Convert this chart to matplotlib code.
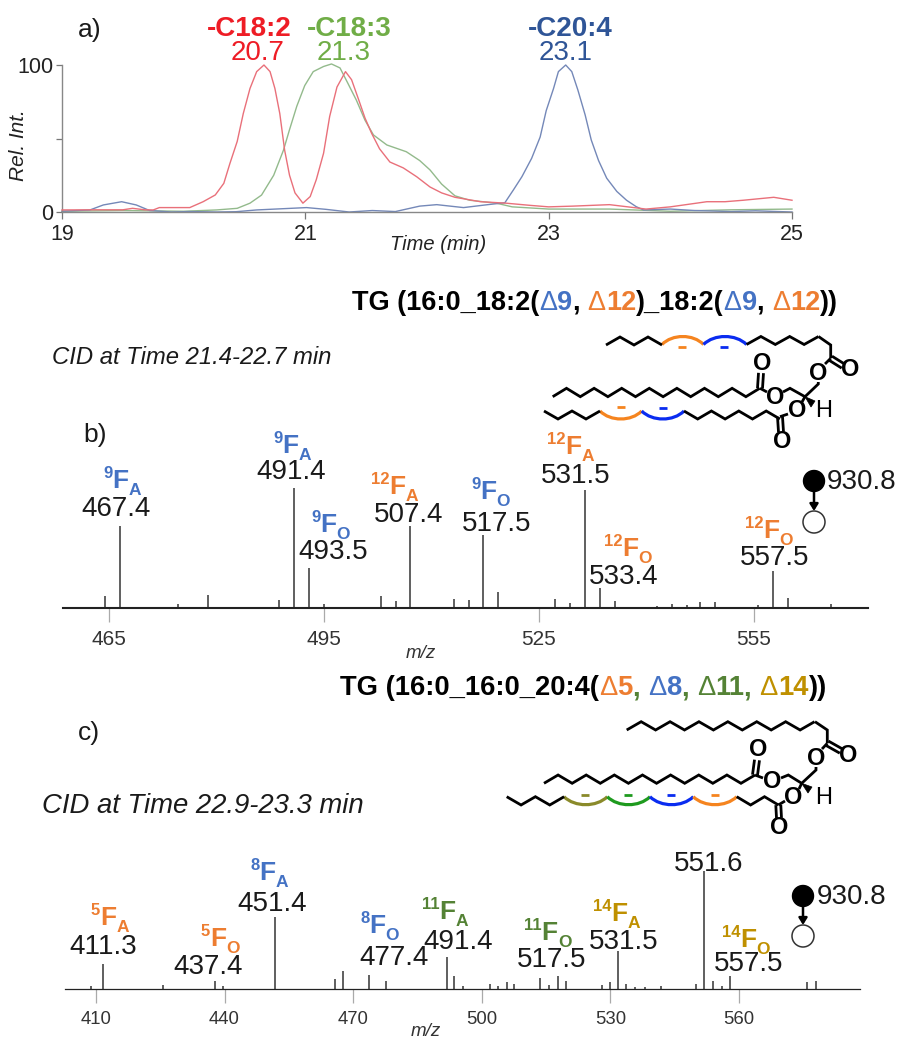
import numpy as np
import matplotlib
matplotlib.use("Agg")
import matplotlib.pyplot as plt
from matplotlib.patches import PathPatch, Circle, Polygon
from matplotlib.path import Path

plt.rcParams['font.family'] = ['Liberation Sans', 'DejaVu Sans']

# ---------- data ----------
red_t = [19, 19.3, 19.5, 19.58, 19.68, 19.75, 19.8, 19.95, 20.05, 20.16, 20.26, 20.33, 20.38, 20.44, 20.49, 20.545, 20.6,
         20.66, 20.71, 20.75, 20.79, 20.83, 20.87, 20.915, 20.98, 21.04, 21.09, 21.15, 21.2, 21.26, 21.33, 21.38, 21.44,
         21.49, 21.545, 21.61, 21.695, 21.805, 21.915, 22.025, 22.12, 22.23, 22.44, 22.65, 22.85, 23.0, 23.2, 23.5,
         23.65, 23.8, 24.0, 24.3, 24.45, 24.6, 24.85, 25]
red_v = [1.4, 1.5, 1.5, 2.5, 1.5, 1.4, 3, 3, 3, 7, 11.6, 19.5, 33, 48, 67, 84, 95.5,
         100, 95.5, 84, 67, 42, 25, 13, 6, 10.5, 22, 40, 65, 85, 95.5, 90, 76,
         64, 53.5, 43, 34, 30, 24, 17, 13, 10, 7, 6, 4.5, 3.5, 4, 5,
         3.5, 2, 3.5, 7, 7, 8, 10, 8]
green_t = [19, 19.5, 20.0, 20.27, 20.44, 20.545, 20.64, 20.74, 20.82, 20.87, 20.93, 20.995, 21.065, 21.15, 21.215, 21.285,
           21.35, 21.42, 21.49, 21.56, 21.67, 21.83, 21.94, 22.025, 22.12, 22.23, 22.35, 22.57, 22.7, 23.0, 23.5, 24.0,
           24.5, 25]
green_v = [0.5, 1, 0.5, 1.4, 2.5, 6, 11.5, 25, 42, 56, 72, 86, 95.5, 99, 100.7, 98,
           87.5, 76, 62.5, 52.4, 45.6, 41, 35, 28.6, 19, 11, 8, 6, 3.5, 2, 2, 0.5,
           1.5, 2]
blue_t = [19, 19.23, 19.34, 19.49, 19.61, 19.72, 19.9, 20.05, 20.27, 20.43, 20.6, 21.01, 21.17, 21.36, 21.55, 21.74, 21.94,
          22.08, 22.3, 22.5, 22.64, 22.71, 22.78, 22.86, 22.93, 22.98, 23.04, 23.08, 23.14, 23.19, 23.24, 23.3, 23.35,
          23.41, 23.477, 23.56, 23.64, 23.72, 23.78, 24.0, 24.2, 24.5, 24.7, 25]
blue_v = [0.5, 1.4, 4.8, 7, 4.8, 1, 0, 0.3, 0, 0.2, 1.4, 3, 1.8, 0, 1, 0.3, 4,
          5, 3, 5, 6.3, 15, 24, 36.5, 51, 69, 84, 95.5, 100, 95.5, 83, 66, 49,
          35, 23, 14, 8, 3.6, 1.4, 2, 1, 0.3, 0.8, 0]

mz_b = [464.5, 466.5, 474.6, 478.8, 488.7, 490.8, 492.9, 495, 502.9, 505, 507, 513.1, 515.2, 517.2, 519.3, 527.2, 529.3,
        531.4, 533.5, 535.6, 541.4, 543.5, 545.6, 547.4, 549.5, 555.5, 557.6, 559.7, 565.7]
int_b = [10, 68, 3, 11, 7, 100, 33, 3, 10, 6, 68, 7.5, 6.5, 61, 13, 7.5, 4, 98, 17, 6, 2, 3.5, 2.5, 5, 5, 2.5, 31, 8, 3.5]
mz_c = [408.8, 411.6, 425.6, 437.8, 439.6, 451.8, 465.8, 467.6, 473.7, 477.6, 491.9, 493.5, 495.6, 501.9, 503.8, 505.9,
        507.5, 513.6, 515.7, 517.8, 519.6, 528, 529.9, 531.8, 533.6, 535.7, 538, 541.7, 550, 551.8, 553.9, 556, 557.9,
        575.8, 577.9]
int_c = [2.5, 21, 3, 7, 2.5, 60, 8, 15, 12, 7, 27, 11, 2.5, 4, 2.5, 6, 4, 9, 3, 11, 7, 3, 6, 32, 4, 2, 2, 2.5, 4, 98, 7, 2.5, 11, 6, 7]

ticks_a = [19, 21, 23, 25]
ticks_b = [465, 495, 525, 555]
ticks_c = [410, 440, 470, 500, 530, 560]

BLUE, ORANGE, GREEN, GOLD = '#4472c4', '#ed7d31', '#548235', '#bf9000'
# sup, sub, colour, left, F baseline, number, number centre x, number centre y
labels_b = [('9', 'A', BLUE, 103, 488, '467.4', 116, 509), ('9', 'A', BLUE, 273, 453, '491.4', 291, 472),
            ('9', 'O', BLUE, 311, 532, '493.5', 333, 552), ('12', 'A', ORANGE, 371, 494, '507.4', 409, 515),
            ('9', 'O', BLUE, 471, 499, '517.5', 497, 524), ('12', 'A', ORANGE, 547, 454, '531.5', 576, 476),
            ('12', 'O', ORANGE, 604, 556, '533.4', 624, 577), ('12', 'O', ORANGE, 745, 538, '557.5', 775, 558)]
labels_c = [('5', 'A', ORANGE, 91, 925, '411.3', 103, 947), ('5', 'O', ORANGE, 201, 946, '437.4', 208, 967),
            ('8', 'A', BLUE, 250, 880, '451.4', 272, 904), ('8', 'O', BLUE, 360, 933, '477.4', 394, 958),
            ('11', 'A', GREEN, 422, 919, '491.4', 458, 942), ('11', 'O', GREEN, 524, 940, '517.5', 552, 960),
            ('14', 'A', GOLD, 593, 921, '531.5', 624, 942), ('14', 'O', GOLD, 722, 947, '557.5', 749, 964)]

# ---------- layout ----------
W, H = 905, 1050
fig = plt.figure(figsize=(W / 100, H / 100), dpi=100, facecolor='white')
renderer = fig.canvas.get_renderer()


def axes_px(l, t, r, b):
    return fig.add_axes([l / W, 1 - b / H, (r - l) / W, (b - t) / H], facecolor='none')


# panel a
ax = axes_px(62, 65, 792, 212)
ax.plot(red_t, red_v, color='#e9707a', lw=1.0, clip_on=False, zorder=3)
ax.plot(green_t, green_v, color='#93ba8c', lw=1.0, clip_on=False, zorder=2)
ax.plot(blue_t, blue_v, color='#7488b8', lw=1.0, clip_on=False, zorder=2)
ax.set_xlim(19, 25)
ax.set_ylim(0, 100)
for s in ('top', 'right'):
    ax.spines[s].set_visible(False)
for s in ('left', 'bottom'):
    ax.spines[s].set_color('#888888')
    ax.spines[s].set_linewidth(1.0)
ax.set_xticks(ticks_a)
ax.set_yticks([0, 50, 100], ['0', '', '100'])
ax.tick_params(axis='x', length=5, width=0.9, color='#777777', labelsize=15.5, pad=4, labelcolor='#222222')
ax.tick_params(axis='y', length=4, width=0.9, color='#777777', labelsize=15.5, pad=2, labelcolor='#222222')
ax.set_xlabel('Time (min)', style='italic', fontsize=14.5, color='#222222', va='center')
ax.xaxis.set_label_coords((438 - 62) / 730, -(245 - 212) / 147)
ax.set_ylabel('Rel. Int.', style='italic', fontsize=15, color='#222222', va='center')
ax.yaxis.set_label_coords((19 - 62) / 730, (212 - 145) / 147)


def spectrum(box, xlim, mz, inten, ticks, label_pos, tick_size, base_lw):
    axs = axes_px(*box)
    full = 120.0
    axs.vlines(mz, 0, inten, color='#444444', lw=1.2)
    axs.set_xlim(*xlim)
    axs.set_ylim(0, (box[3] - box[1]) / full * 100)
    for s in ('top', 'right', 'left'):
        axs.spines[s].set_visible(False)
    axs.spines['bottom'].set_color('#222222')
    axs.spines['bottom'].set_linewidth(base_lw)
    axs.set_yticks([])
    axs.set_xticks(ticks)
    axs.tick_params(axis='x', length=10, width=0.9, color='#aaaaaa', labelsize=tick_size, pad=6, labelcolor='#333333')
    axs.set_xlabel('m/z', style='italic', fontsize=13.5, color='#333333', va='center')
    axs.xaxis.set_label_coords(*label_pos)
    return axs


spectrum((63, 468, 868, 608), (458.6, 570.9), mz_b, int_b, ticks_b, ((421 - 63) / 805, -(653 - 608) / 140), 15, 1.5)
spectrum((65, 849, 860, 989), (402.8, 588.2), mz_c, int_c, ticks_c, ((426 - 65) / 795, -(1032 - 989) / 140), 13.3, 0.9)

# overlay in reference pixels for annotations
ov = fig.add_axes([0, 0, 1, 1], facecolor='none')
ov.set_xlim(0, W)
ov.set_ylim(H, 0)
ov.axis('off')
INK = '#1a1a1a'


def T(x, y, s, size=20, color=INK, ha='center', va='center', **kw):
    return ov.text(x, y, s, fontsize=size, color=color, ha=ha, va=va, **kw)


def width(s, **kw):
    bar = ov.text(0, 0, '|' + s + '|', **kw)
    w1 = bar.get_window_extent(renderer).width
    bar.set_text('||')
    w0 = bar.get_window_extent(renderer).width
    bar.remove()
    return w1 - w0


def rich(x, y, parts, size):
    for s, col, weight in parts:
        T(x, y, s, size=size, color=col, ha='left', va='baseline', weight=weight)
        x += width(s, fontsize=size, weight=weight)


def fragment(x, base, sup, sub, color):
    T(x, base - 10, sup, size=12, color=color, ha='left', va='baseline', weight='bold')
    x += width(sup, fontsize=12, weight='bold')
    T(x, base, 'F', size=19, color=color, ha='left', va='baseline', weight='bold')
    x += width('F', fontsize=19, weight='bold')
    T(x, base + 7, sub, size=12.5, color=color, ha='left', va='baseline', weight='bold')


def line(pts, color='black', lw=2.0):
    xs, ys = zip(*pts)
    ov.plot(xs, ys, color=color, lw=lw, solid_joinstyle='miter', solid_capstyle='butt')


def zig(x0, y0, n, dx, amp, up=True):
    pts = [(x0, y0)]
    y = y0
    sign = -1 if up else 1
    for i in range(n):
        y = y + sign * amp
        sign = -sign
        pts.append((x0 + dx * (i + 1), y))
    line(pts)
    return pts[-1]


def arc(x0, x1, y, h, color):
    w = x1 - x0
    verts = [(x0, y), (x0 + 0.25 * w, y + h * 1.33), (x0 + 0.75 * w, y + h * 1.33), (x1, y)]
    ov.add_patch(PathPatch(Path(verts, [Path.MOVETO, Path.CURVE4, Path.CURVE4, Path.CURVE4]), fc='none', ec=color, lw=2.3))


def dash(x, y, color):
    line([(x - 4, y), (x + 4, y)], color=color, lw=2)


def dbl(p, q, off=2.5):
    p, q = np.array(p, float), np.array(q, float)
    d = q - p
    n = np.array([-d[1], d[0]]) / np.hypot(*d) * off
    line([tuple(p + n), tuple(q + n)])
    line([tuple(p - n), tuple(q - n)])


def atom(x, y, s='O'):
    T(x, y, s, size=17, color='black', weight='bold' if s == 'O' else 'normal')


def precursor(x, y1, y2, tx):
    ov.add_patch(Circle((x, y1), 10.5, fc='black', ec='black'))
    ov.add_patch(Circle((x, y2), 11, fc='white', ec='#333333', lw=1.1))
    ov.annotate('', xy=(x, y2 - 11), xytext=(x, y1 + 9),
                arrowprops=dict(arrowstyle='-|>,head_width=0.25,head_length=0.4', color='black', lw=1.8,
                                shrinkA=0, shrinkB=0))
    T(tx, y1 + 1, '930.8', ha='left')


# panel a labels
T(90, 30, 'a)', size=19)
T(249, 29, '-C18:2', color='#ee1c25', weight='bold')
T(349, 29, '-C18:3', color='#70ad47', weight='bold')
T(570, 29, '-C20:4', color='#2f5597', weight='bold')
T(258, 53, '20.7', color='#ee1c25')
T(344, 53, '21.3', color='#70ad47')
T(566, 53, '23.1', color='#2f5597')

# panel b annotation
T(83, 435, 'b)', size=19, ha='left')
T(52, 358, 'CID at Time 21.4-22.7 min', size=17.2, style='italic', ha='left')
rich(352, 310, [('TG (16:0_18:2(', 'black', 'bold'), ('Δ', BLUE, 'normal'), ('9', BLUE, 'bold'), (', ', 'black', 'bold'),
                ('Δ', ORANGE, 'normal'), ('12', ORANGE, 'bold'), (')_18:2(', 'black', 'bold'), ('Δ', BLUE, 'normal'),
                ('9', BLUE, 'bold'), (', ', 'black', 'bold'), ('Δ', ORANGE, 'normal'), ('12', ORANGE, 'bold'),
                ('))', 'black', 'bold')], 19.5)
for sup, sub, col, x, base, num, nx, ny in labels_b:
    fragment(x, base, sup, sub, col)
    T(nx, ny, num)
precursor(814, 481, 522, 827)

# panel c annotation
T(78, 733, 'c)', size=19, ha='left')
T(42, 806, 'CID at Time 22.9-23.3 min', size=19.8, style='italic', ha='left')
rich(340, 695, [('TG (16:0_16:0_20:4(', 'black', 'bold'), ('Δ', ORANGE, 'normal'), ('5', ORANGE, 'bold'), (', ', GREEN, 'bold'),
                ('Δ', BLUE, 'normal'), ('8', BLUE, 'bold'), (', ', GREEN, 'bold'), ('Δ', GREEN, 'normal'),
                ('11', GREEN, 'bold'), (', ', GREEN, 'bold'), ('Δ', GOLD, 'normal'), ('14', GOLD, 'bold'),
                ('))', 'black', 'bold')], 19.7)
for sup, sub, col, x, base, num, nx, ny in labels_c:
    fragment(x, base, sup, sub, col)
    T(nx, ny, num)
T(709, 864, '551.6')
precursor(803, 896, 936, 817)

# structure b
C_OR, C_BL, C_GR, C_OL = '#f5841f', '#0a2cf0', '#1e9a1e', '#8a8a2a'
zig(606, 345, 4, 14, 8)
arc(662, 703.5, 344.5, -8, C_OR)
arc(703.5, 746.5, 344.5, -8, C_BL)
dash(682.3, 346.7, C_OR)
dash(724.3, 346.7, C_BL)
zig(746.5, 344.5, 5, 14.4, 8)
line([(818.5, 336.5), (830.7, 345), (830.7, 358.3)])
dbl((830.7, 358.3), (843, 366))
line([(830.7, 358.3), (825, 364)])
atom(850, 370)
atom(818.5, 373)
line([(818.3, 382), (818.3, 384), (805, 396.7), (790, 388.3), (783, 392)])
atom(775, 397)
line([(767, 392), (760, 388.3)])
dbl((760, 388.3), (761, 373))
atom(761.7, 363.5)
zig(552.7, 396.7, 15, 13.8, 8.4)
ov.add_patch(Polygon([(805, 396.7), (815, 401), (811, 407)], fc='black', ec='black', lw=0.5))
atom(823.3, 410.7, 'H')
line([(805, 396.7), (802, 402)])
atom(796.7, 410.7)
line([(788, 414), (780, 416.7)])
dbl((780, 416.7), (781, 432))
atom(781.7, 441.7)
zig(544, 411, 4, 14, 8, up=False)
arc(600, 641.7, 411, 8, C_OR)
arc(641.7, 684, 411, 8, C_BL)
dash(620.7, 407.3, C_OR)
dash(662.7, 407.7, C_BL)
zig(684, 411, 7, 13.7, 8, up=False)

# structure c
zig(626.7, 730, 13, 14.45, 8.3)
line([(815, 721.7), (827.3, 730), (827.3, 743.3)])
dbl((827.3, 743.3), (841, 751))
line([(827.3, 743.3), (822, 749)])
atom(848.3, 756)
atom(816, 758.3)
line([(816, 767), (816, 770), (801.7, 783.3), (788.3, 775), (781, 778)])
atom(771.7, 781.7)
line([(763, 778), (755, 775)])
dbl((755, 775), (757, 760))
atom(758.3, 750)
zig(544, 783.3, 15, 14.07, 8.3)
ov.add_patch(Polygon([(801.7, 783.3), (812, 787), (808, 793)], fc='black', ec='black', lw=0.5))
atom(823.3, 798.3, 'H')
line([(801.7, 783.3), (799, 789)])
atom(793.3, 797.3)
line([(785, 801), (778.3, 805)])
dbl((778.3, 805), (779, 818))
atom(779, 827.5)
zig(506.7, 796.7, 4, 14.35, 8.3, up=False)
arc(564, 607.3, 796.7, 8, C_OL)
arc(607.3, 650, 796.7, 8, C_GR)
arc(650, 693.3, 796.7, 8, C_BL)
arc(693.3, 736.7, 796.7, 8, C_OR)
dash(585.3, 795, C_OL)
dash(627.7, 795, C_GR)
dash(671, 795, C_BL)
dash(715.3, 795, C_OR)
zig(736.7, 796.7, 3, 13.9, 8.3, up=False)

fig.savefig('out.png', dpi=100, facecolor='white')
